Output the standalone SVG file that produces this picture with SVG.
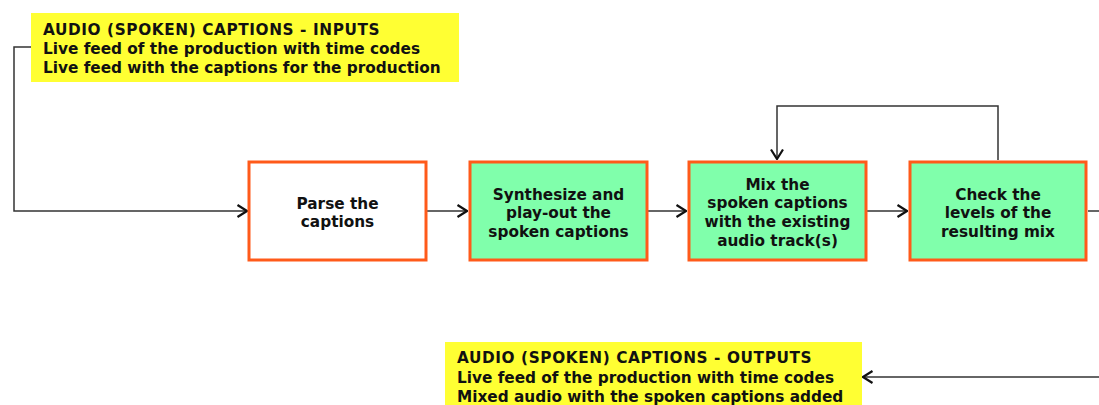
<svg xmlns="http://www.w3.org/2000/svg" width="1099" height="405" viewBox="0 0 1099 405">
<defs>
<style>
text{font-family:"DejaVu Sans","Liberation Sans",sans-serif;font-weight:bold;font-size:15.3px;fill:#111}
.t{letter-spacing:0.6px}
.c{text-anchor:middle}
.box{stroke:#ff5a1a;stroke-width:3}
.green{fill:#80ffab}
.white{fill:#fff}
.note{fill:#ffff33}
.conn{fill:none;stroke:#333;stroke-width:1.5}
</style>
<marker id="arr" viewBox="0 0 12 14" refX="11" refY="7" markerWidth="12" markerHeight="14" markerUnits="userSpaceOnUse" orient="auto">
<path d="M1.5,1 L11,7 L1.5,13" fill="none" stroke="#111" stroke-width="2.2"/>
</marker>
</defs>
<rect width="1099" height="405" fill="#fff"/>
<g id="connectors">
<path class="conn" d="M31,47 H14 V211 H247" marker-end="url(#arr)"/>
<path class="conn" d="M427,211 H467" marker-end="url(#arr)"/>
<path class="conn" d="M648,211 H686" marker-end="url(#arr)"/>
<path class="conn" d="M867,211 H907" marker-end="url(#arr)"/>
<path class="conn" d="M1088,211 H1099"/>
<path class="conn" d="M998,160 V106 H777 V159" marker-end="url(#arr)"/>
<path class="conn" d="M1099,377 H863" marker-end="url(#arr)"/>
</g>
<g id="inputs">
<rect class="note" x="31" y="13" width="428" height="69"/>
<text class="t" x="43" y="35">AUDIO (SPOKEN) CAPTIONS - INPUTS</text>
<text x="43" y="54">Live feed of the production with time codes</text>
<text x="43" y="73">Live feed with the captions for the production</text>
</g>
<g id="parse">
<rect class="box white" x="249" y="162" width="177" height="98"/>
<text class="c" x="337.5" y="208.5">Parse the</text>
<text class="c" x="337.5" y="227">captions</text>
</g>
<g id="synth">
<rect class="box green" x="470" y="162" width="177" height="98"/>
<text class="c" x="558.5" y="199.5">Synthesize and</text>
<text class="c" x="558.5" y="218">play-out the</text>
<text class="c" x="558.5" y="236.5">spoken captions</text>
</g>
<g id="mix">
<rect class="box green" x="689" y="162" width="177" height="98"/>
<text class="c" x="777.5" y="189.5">Mix the</text>
<text class="c" x="777.5" y="208">spoken captions</text>
<text class="c" x="777.5" y="227">with the existing</text>
<text class="c" x="777.5" y="245.5">audio track(s)</text>
</g>
<g id="check">
<rect class="box green" x="910" y="162" width="176" height="98"/>
<text class="c" x="998" y="199.5">Check the</text>
<text class="c" x="998" y="218">levels of the</text>
<text class="c" x="998" y="236.5">resulting mix</text>
</g>
<g id="outputs">
<rect class="note" x="445" y="342" width="417" height="63"/>
<text class="t" x="457" y="363">AUDIO (SPOKEN) CAPTIONS - OUTPUTS</text>
<text x="457" y="383">Live feed of the production with time codes</text>
<text x="457" y="402">Mixed audio with the spoken captions added</text>
</g>
</svg>
